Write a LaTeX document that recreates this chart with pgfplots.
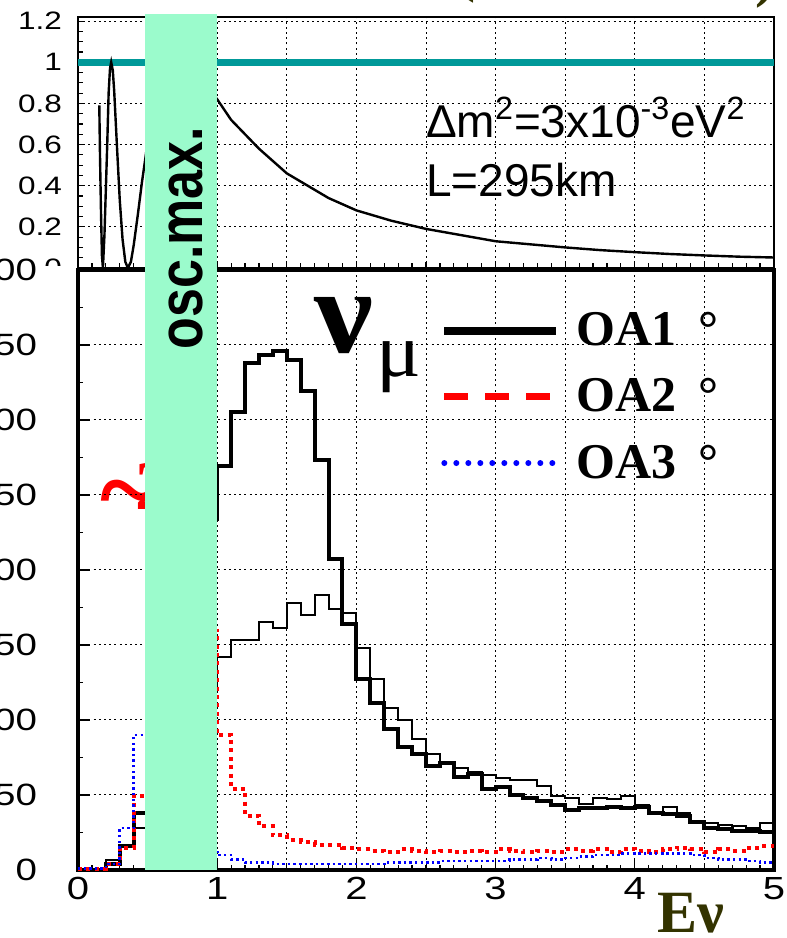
\documentclass[border=0pt]{standalone}
\usepackage{fontspec}
\setmainfont{Liberation Sans}
\newfontfamily\serif{Liberation Serif}
\usepackage{graphicx}
\usepackage{pgfplots}
\usepackage{pgfplotstable}
\pgfplotsset{compat=1.18}
\definecolor{band}{HTML}{9BFBCC}
\definecolor{tealline}{HTML}{009999}
\definecolor{olivetxt}{HTML}{333300}

% flux per 0.1 GeV bin, left edges (last row closes the histogram at 5 GeV)
\pgfplotstableread{
E    oaone oathin oatwo oathree
0.0  0     0      1     1
0.1  0     0      1     1
0.2  4     7      4     4
0.3  16    17     15    28
0.4  38    28     49    90
0.5  70    45     110   95
0.6  110   65     170   70
0.7  150   85     200   45
0.8  190   105    190   25
0.9  234   121    159   12
1.0  269   142    90    10
1.1  305   153    54    7
1.2  338   153    36    5
1.3  343   165    29    5
1.4  346   161    23    4
1.5  340   178    20    4
1.6  319   170    19    4
1.7  273   183    17    4
1.8  207   174    17    4
1.9  164   171    15    4
2.0  127   148    14    4
2.1  111   127    13    4
2.2  94    108    12    5
2.3  82    100    14    5
2.4  77    87     13    5
2.5  69    77     12    5
2.6  71    72     13    6
2.7  62    68     12    6
2.8  64    65     13    6
2.9  54    63     12    6
3.0  55    61     14    6
3.1  50    60     13    7
3.2  48    60     12    7
3.3  46    56     13    8
3.4  43    49     12    7
3.5  40    48     14    8
3.6  41    44     13    9
3.7  41    48     14    10
3.8  42    47     12    10
3.9  41    49     14    11
4.0  42    43     13    11
4.1  38    38     12    11
4.2  37    42     14    11
4.3  36    38     15    11
4.4  32    32     14    10
4.5  28    31     12    8
4.6  27    30     14    7
4.7  26    29     13    7
4.8  26    28     15    6
4.9  25    31     16    5
5.0  25    31     16    5
}\fluxtab

\begin{document}
\begin{tikzpicture}
\pgfplotsset{
  /pgf/number format/assume math mode=true,
  gridsty/.style={grid style={black, line width=0.5pt, dash pattern=on 1pt off 1.6pt}},
}
% --- oscillation probability panel
\begin{axis}[
  at={(39pt,335pt)}, anchor=south west,
  scale only axis, width=348pt, height=125.5pt,
  xmin=0, xmax=5, ymin=0, ymax=1.22,
  xtick={0,0.5,...,5}, xticklabels={}, minor x tick num=4,
  ytick={0,0.2,0.4,0.6,0.8,1,1.2}, minor y tick num=3,
  tick pos=left, grid=major, gridsty,
  axis line style={line width=1.3pt},
  major tick length=3pt, minor tick length=2.5pt,
  tick style={black, line width=0.6pt},
  yticklabel style={font=\fontsize{12.6}{14}\selectfont, xshift=-4.5pt},
  yticklabel={\scalebox{1.25}[1]{\pgfmathprintnumber{\tick}}},
]
\addplot[tealline, line width=3.5pt] coordinates {(0,1)(5,1)};
\addplot[black, line width=1.2pt] coordinates {
(0.153,0.79)(0.158,0.55)(0.165,0.28)(0.172,0.06)(0.179,0.0)(0.19,0.16)
(0.20,0.38)(0.21,0.60)(0.22,0.85)(0.23,0.97)(0.2386,1.0)(0.25,0.96)
(0.26,0.86)(0.28,0.59)(0.30,0.33)(0.32,0.14)(0.34,0.03)(0.358,0.0)
(0.38,0.03)(0.40,0.11)(0.43,0.26)(0.46,0.42)(0.50,0.61)(0.55,0.79)
(0.60,0.91)(0.65,0.98)(0.716,1.0)(0.8,0.97)(0.9,0.90)(1.0,0.82)
(1.1,0.72)(1.2,0.65)(1.3,0.58)(1.4,0.52)(1.5,0.46)(1.6,0.42)(1.8,0.34)
(2.0,0.28)(2.25,0.23)(2.5,0.19)(2.75,0.16)(3.0,0.13)(3.25,0.115)
(3.5,0.10)(3.75,0.087)(4.0,0.077)(4.25,0.068)(4.5,0.061)(4.75,0.055)(5.0,0.051)
};
\end{axis}

\begin{scope}[x=0.5pt, y=-0.5pt, shift={(0pt,469pt)}]
\fill[white] (0,266.5) rectangle (75,300);
\node[anchor=base west, inner sep=0pt, text=red, font=\fontsize{35}{40}\selectfont\serif\bfseries] at (100,510)
  {\raisebox{-9pt}{\scalebox{1.6}{\textasciitilde}}\hspace{-11.8pt}2};
\end{scope}

% --- flux panel
\begin{axis}[
  at={(39pt,34pt)}, anchor=south west,
  scale only axis, width=348pt, height=300pt,
  xmin=0, xmax=5, ymin=0, ymax=400, clip=false,
  xtick={0,1,...,5}, minor x tick num=9,
  extra x ticks={0.5,1.5,2.5,3.5,4.5}, extra x tick labels={},
  extra x tick style={grid=major, major tick length=2.5pt},
  ytick={0,50,...,400}, minor y tick num=1,
  tick pos=left, grid=major, gridsty,
  axis line style={line width=2pt},
  major tick length=6pt, minor tick length=2.5pt,
  tick style={black, line width=0.6pt},
  xticklabel style={font=\fontsize{16}{19}\selectfont},
  yticklabel style={font=\fontsize{15.4}{18}\selectfont, xshift=-17pt},
  xticklabel={\scalebox{1.25}[1]{\pgfmathprintnumber{\tick}}},
  yticklabel={\scalebox{1.25}[1]{\pgfmathprintnumber{\tick}}},
  legend style={draw=none, fill=none, at={(0.52,0.93)}, anchor=north west,
    inner sep=0pt, nodes={inner sep=0pt},
    font=\fontsize{25}{30}\selectfont\serif\bfseries, row sep=15pt, column sep=8pt},
  legend cell align=left,
  legend image code/.code={\draw[#1] (0pt,0pt) -- (56pt,0pt);},
]
\addplot[const plot, black, line width=1pt, forget plot] table[x=E, y=oathin] {\fluxtab};
\addplot[const plot, black, line width=2pt, forget plot] table[x=E, y=oaone] {\fluxtab};
\addplot[const plot, red, line width=2pt, dash pattern=on 2pt off 2.2pt, forget plot] table[x=E, y=oatwo] {\fluxtab};
\addplot[const plot, blue, line width=1.3pt, dash pattern=on 1.2pt off 1.6pt, forget plot] table[x=E, y=oathree] {\fluxtab};
\addplot[draw=none, fill=band, forget plot] coordinates {(0.482,570.7)(1,570.7)} \closedcycle;

\addlegendimage{black, line width=4pt}
\addlegendentry{OA1\hspace{0.45em}°}
\addlegendimage{red, line width=3.5pt, dash pattern=on 12pt off 8.5pt}
\addlegendentry{OA2\hspace{0.45em}°}
\addlegendimage{blue, line width=3pt, line cap=round, dash pattern=on 0pt off 6pt}
\addlegendentry{OA3\hspace{0.45em}°}
\end{axis}

\begin{scope}[x=0.5pt, y=-0.5pt, shift={(0pt,469pt)}]
\node[rotate=90, font=\fontsize{26}{30}\selectfont\bfseries] at (186,238) {\scalebox{1}[1.2]{osc.max.}};
\node[anchor=base west, font=\fontsize{23}{27}\selectfont] at (419,138)
  {Δm\textsuperscript{2}=3x10\textsuperscript{-3}eV\textsuperscript{2}};
\node[anchor=base west, font=\fontsize{23}{27}\selectfont] at (419,197) {L=295km};
\node[anchor=base west, inner sep=0pt, font=\fontsize{60}{64}\selectfont\serif\bfseries] at (314,353) {\scalebox{1.1}[1]{ν}};
\node[anchor=base west, inner sep=0pt, font=\fontsize{38}{42}\selectfont\serif] at (376,377) {\scalebox{1.1}[1]{μ}};
\node[anchor=base west, inner sep=0pt, text=olivetxt, font=\fontsize{30}{34}\selectfont\serif\bfseries] at (657,933) {Eν};
\node[anchor=base west, inner sep=0pt, text=olivetxt, font=\fontsize{30}{34}\selectfont\serif\bfseries] at (455,-9) {(};
\node[anchor=base west, inner sep=0pt, text=olivetxt, font=\fontsize{30}{34}\selectfont\serif\bfseries] at (728,-4) {ν)};
\end{scope}

\pgfresetboundingbox
\useasboundingbox (0pt,0pt) rectangle (393.5pt,469pt);
\end{tikzpicture}
\end{document}
